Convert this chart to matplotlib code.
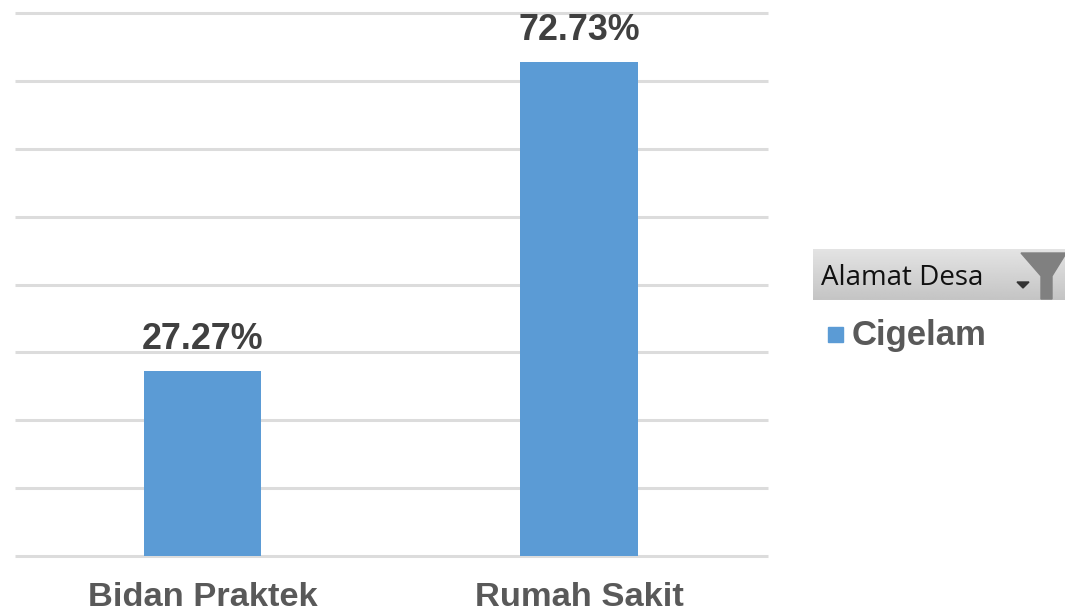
import matplotlib
matplotlib.use('Agg')
import matplotlib.pyplot as plt
import numpy as np
from matplotlib.patches import Rectangle, Polygon

categories = ['Bidan Praktek', 'Rumah Sakit']
values = [27.27, 72.73]
labels = ['27.27%', '72.73%']
series_name = 'Cigelam'
filter_name = 'Alamat Desa'

W, H = 1065, 612
plt.rcParams['font.family'] = ['Liberation Sans', 'DejaVu Sans']

fig = plt.figure(figsize=(W / 100, H / 100), dpi=100)
# kotak plot dalam piksel: x 15-768, y 13-556
ax = fig.add_axes([15 / W, 1 - 556 / H, (768 - 15) / W, (556 - 13) / H])
ax.bar([0, 1], values, width=0.312, color='#5B9BD5', zorder=3)
ax.set_xlim(-0.4985, 1.5015)
ax.set_ylim(0, 80)
ax.set_yticks(range(0, 81, 10))
ax.set_xticks([0, 1])
ax.set_xticklabels(categories, fontsize=24.8, fontweight='bold', color='#595959')
ax.tick_params(axis='x', length=0, pad=19)
ax.tick_params(axis='y', length=0, labelleft=False)
ax.grid(axis='y', color='#DCDCDC', linewidth=2.2, zorder=0)
for line in ax.get_ygridlines():
    line.set_clip_on(False)
    line.set_solid_capstyle('butt')
for s in ax.spines.values():
    s.set_visible(False)
for i, v in enumerate(values):
    ax.annotate(labels[i], (i, v), xytext=(0, 14), textcoords='offset pixels', ha='center',
                va='bottom', fontsize=25.8, fontweight='bold', color='#404040', clip_on=False)

# legend dan tombol filter
over = fig.add_axes([0, 0, 1, 1])
over.axis('off')
over.patch.set_alpha(0)
shade = np.linspace(0.89, 0.77, 50).reshape(-1, 1)
over.imshow(shade, cmap='gray', vmin=0, vmax=1, extent=(813, 1065, 300, 249), aspect='auto')
over.set_xlim(0, W)
over.set_ylim(H, 0)
over.text(821, 278, filter_name, fontsize=20, color='#111111', va='center', family=['Open Sans', 'DejaVu Sans'])
over.add_patch(Polygon([(1021, 253), (1065, 253), (1065, 255), (1052, 276), (1052, 299), (1041, 299), (1041, 276)], color='#808080'))
over.add_patch(Polygon([(1017, 282), (1029, 282), (1023, 288)], color='#333333'))
over.add_patch(Rectangle((828, 327), 15, 15, color='#5B9BD5'))
over.text(852, 335, series_name, fontsize=25, fontweight='bold', color='#595959', va='center')

fig.savefig('out.png', dpi=100)
